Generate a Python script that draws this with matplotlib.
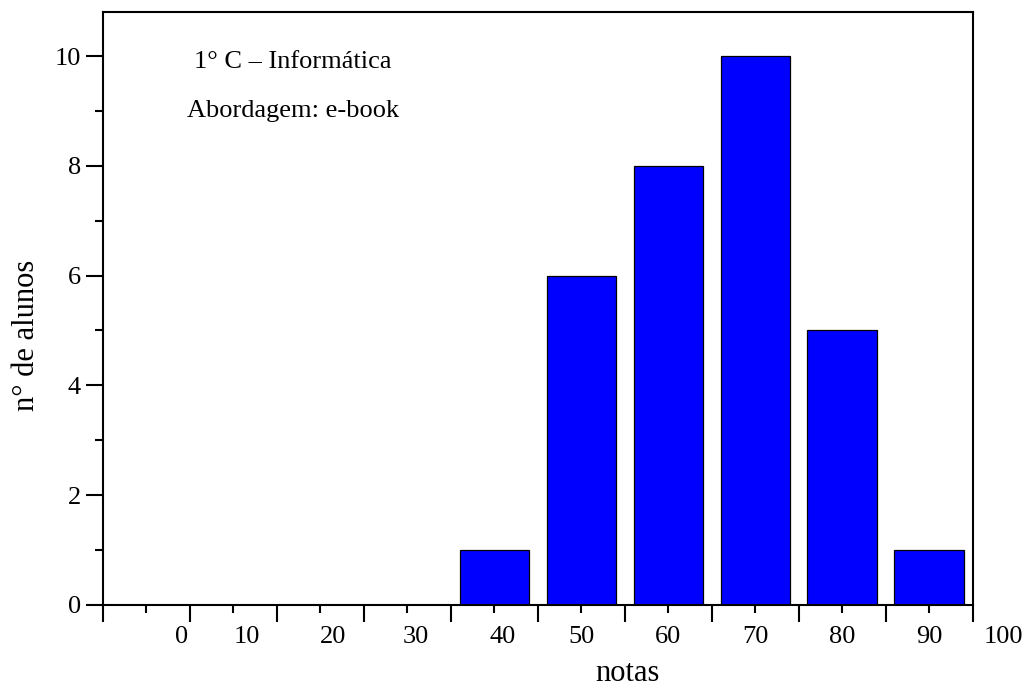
import matplotlib
matplotlib.use("Agg")
import matplotlib.pyplot as plt
from matplotlib.ticker import MultipleLocator

# data
notas = [0, 10, 20, 30, 40, 50, 60, 70, 80, 90]
alunos = [0, 0, 0, 0, 1, 6, 8, 10, 5, 1]

# tick labels as they sit on the original chart
label_pos = [4, 11.5, 21.5, 31, 41, 50, 60, 70, 80, 90, 98.5]
label_txt = ['0', '10', '20', '30', '40', '50', '60', '70', '80', '90', '100']

plt.rcParams['font.family'] = ['Liberation Serif', 'DejaVu Serif']

fig = plt.figure(figsize=(10.25, 6.91), dpi=100)
ax = fig.add_axes([0.1005, 0.1245, 0.8485, 0.858])

ax.bar(notas, alunos, width=8, color='#0000ff', edgecolor='black', linewidth=0.9)

ax.set_xlim(-5, 95)
ax.set_ylim(0, 10.8)

# x ticks: long at bin edges, short at bin centres, no labels
ax.xaxis.set_major_locator(MultipleLocator(10, offset=5))
ax.xaxis.set_minor_locator(MultipleLocator(10))
ax.tick_params(axis='x', which='major', direction='out', length=12, width=1.5, labelbottom=False)
ax.tick_params(axis='x', which='minor', direction='out', length=6, width=1.5)

ax.yaxis.set_major_locator(MultipleLocator(2))
ax.yaxis.set_minor_locator(MultipleLocator(1))
ax.tick_params(axis='y', which='major', direction='out', length=12, width=1.5, labelsize=19, pad=4)
ax.tick_params(axis='y', which='minor', direction='out', length=6, width=1.5)

for s in ax.spines.values():
    s.set_linewidth(1.5)

# number labels under the axis (they do not sit on the ticks)
for p, t in zip(label_pos, label_txt):
    ax.text(p, -0.054, t, transform=ax.get_xaxis_transform(), ha='center', va='center',
            fontsize=19, clip_on=False)

ax.text(0.218, 0.915, '1° C – Informática', transform=ax.transAxes, ha='center', va='center', fontsize=19)
ax.text(0.219, 0.833, 'Abordagem: e-book', transform=ax.transAxes, ha='center', va='center', fontsize=19)

fig.text(0.612, 0.026, 'notas', ha='center', va='center', fontsize=22)
fig.text(0.026, 0.514, 'n° de alunos', ha='center', va='center', rotation=90, fontsize=22)

fig.savefig('out.png', dpi=100)
